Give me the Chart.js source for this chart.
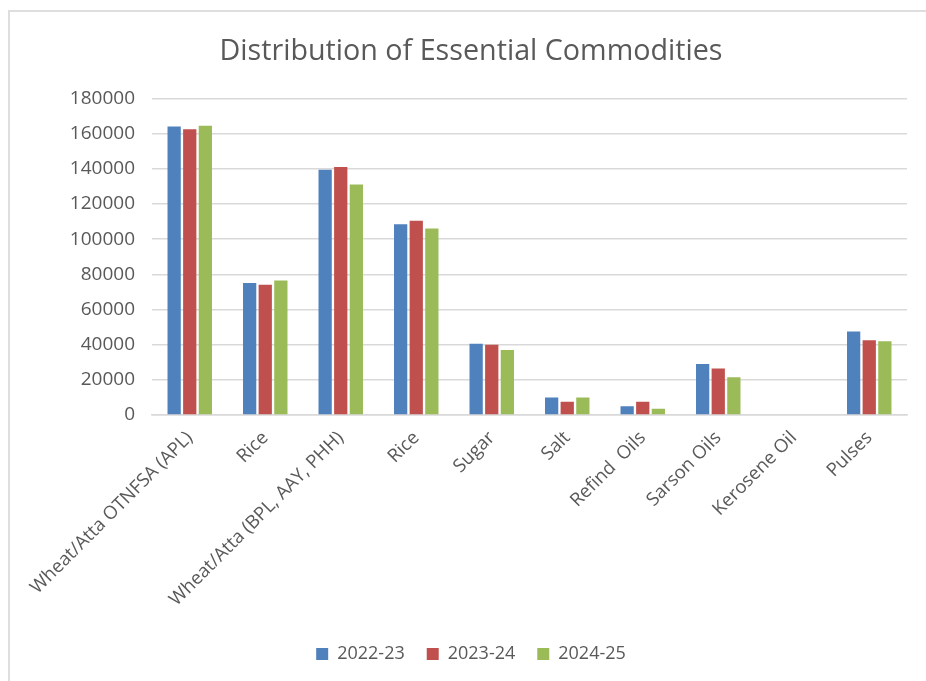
<!DOCTYPE html>
<html lang="en">
<head>
    <meta charset="UTF-8">
    <title>Distribution of Essential Commodities</title>
    <style>
        body {
            margin: 0;
            padding: 0;
            background: #ffffff;
            overflow: hidden;
        }
        #marco {
            position: absolute;
            left: 8px;
            top: 10px;
            width: 1000px;
            height: 1000px;
            border: 2px solid #dedede;
        }
        #contenedor {
            position: absolute;
            left: 0;
            top: 0;
            width: 926px;
            height: 681px;
        }
    </style>
    <script src="https://cdn.jsdelivr.net/npm/chart.js"></script>
</head>
<body>
    <div id="marco"></div>
    <div id="contenedor">
        <canvas id="grafico"></canvas>
    </div>

    <script>
        // Datos
        const categorias = [
            'Wheat/Atta OTNFSA (APL)', 'Rice', 'Wheat/Atta (BPL, AAY, PHH)', 'Rice',
            'Sugar', 'Salt', 'Refind  Oils', 'Sarson Oils', 'Kerosene Oil', 'Pulses'
        ];
        const series = ['2022-23', '2023-24', '2024-25'];
        const valores2022 = [164000, 75000, 139500, 108500, 40500, 10000, 5000, 29000, 0, 47500];
        const valores2023 = [162500, 74000, 141000, 110500, 40000, 7500, 7500, 26500, 0, 42500];
        const valores2024 = [164500, 76500, 131000, 106000, 37000, 10000, 3500, 21500, 0, 42000];
        const colores = ['#4f81bd', '#c0504d', '#9bbb59'];
        const ejeY = { min: 0, max: 180000, paso: 20000 };

        const gris = '#595959';
        const fuente = "'Open Sans', sans-serif";

        const datos = [valores2022, valores2023, valores2024];

        new Chart(document.getElementById('grafico'), {
            type: 'bar',
            data: {
                labels: categorias,
                datasets: series.map((nombre, i) => ({
                    label: nombre,
                    data: datos[i],
                    backgroundColor: colores[i],
                    borderWidth: 0,
                    categoryPercentage: 0.62,
                    barPercentage: 0.85
                }))
            },
            options: {
                responsive: true,
                maintainAspectRatio: false,
                animation: false,
                layout: {
                    // el titulo y la leyenda se centran en el marco, no en el area del grafico
                    padding: { left: 16, right: 0, top: 0, bottom: 8 }
                },
                plugins: {
                    title: {
                        display: true,
                        text: 'Distribution of Essential Commodities',
                        color: gris,
                        font: { family: fuente, size: 28.7, weight: 'normal' },
                        padding: { top: 35, bottom: 29 }
                    },
                    legend: {
                        position: 'bottom',
                        labels: {
                            color: gris,
                            font: { family: fuente, size: 18 },
                            boxWidth: 12,
                            boxHeight: 12,
                            padding: 22
                        }
                    },
                    tooltip: { enabled: false }
                },
                scales: {
                    x: {
                        afterFit: function (escala) {
                            escala.height = 208;
                        },
                        grid: { display: false, drawTicks: false },
                        border: { color: '#d9d9d9', width: 1.5 },
                        ticks: {
                            color: gris,
                            font: { family: fuente, size: 18.5 },
                            minRotation: 45,
                            maxRotation: 45,
                            padding: 12
                        }
                    },
                    y: {
                        min: ejeY.min,
                        max: ejeY.max,
                        afterFit: function (escala) {
                            escala.width = 136;
                        },
                        grid: { color: '#d9d9d9', lineWidth: 1.5, drawTicks: false },
                        border: { display: false },
                        ticks: {
                            stepSize: ejeY.paso,
                            color: gris,
                            font: { family: fuente, size: 19 },
                            padding: 17,
                            callback: valor => String(valor)
                        }
                    },
                    // eje vacio a la derecha para dejar el margen del area de trazado
                    margenDerecho: {
                        type: 'linear',
                        position: 'right',
                        afterFit: function (escala) {
                            escala.width = 19;
                        },
                        grid: { display: false, drawTicks: false },
                        border: { display: false },
                        ticks: { display: false }
                    }
                }
            }
        });
    </script>
</body>
</html>
